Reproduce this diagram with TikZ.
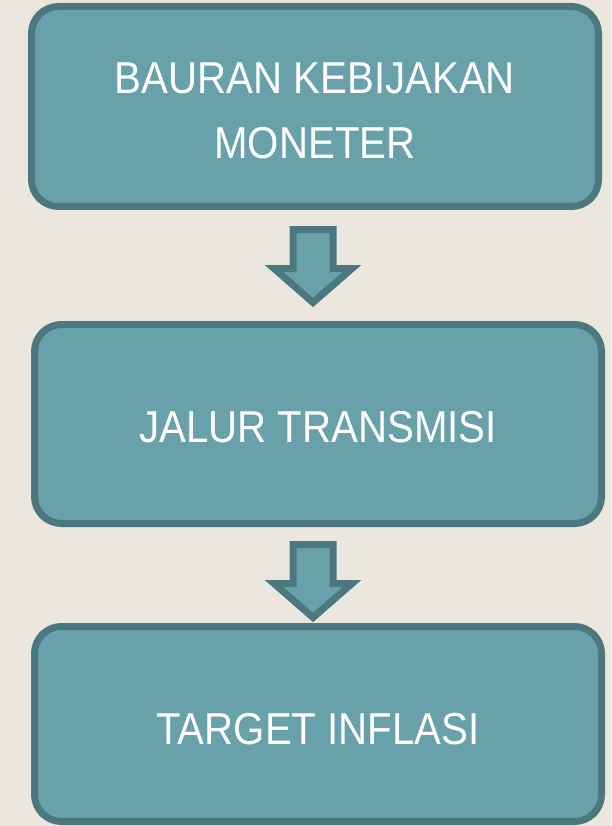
\documentclass[tikz,border=0pt]{standalone}
\usepackage{fontspec}
\newfontfamily\boxfont{Liberation Sans}[FakeStretch=0.9]
\usetikzlibrary{calc}
\definecolor{bgcol}{HTML}{ECE7DE}
\definecolor{tealfill}{HTML}{68A1AA}
\definecolor{tealdark}{HTML}{4B777E}
\tikzset{
  boxnode/.style={draw=tealdark, fill=tealfill, line width=7pt, rounded corners=27pt,
    minimum width=567pt, inner sep=0pt},
  boxlabel/.style={text=white, align=center, inner sep=0pt,
    font=\boxfont\fontsize{44.7}{65}\selectfont},
  blockarrow/.style={draw=tealdark, fill=tealfill, line width=7pt, line join=miter, miter limit=3}
}
\begin{document}
\begin{tikzpicture}[x=1pt,y=-1pt]
\fill[bgcol] (0,0) rectangle (611,826);
\useasboundingbox (0,0) rectangle (611,826);
\node[boxnode, minimum height=200pt] (b1) at (315,106.5) {};
\node[boxnode, minimum height=199pt] (b2) at (318,424) {};
\node[boxnode, minimum height=195pt] (b3) at (318,724) {};
\node[boxlabel] (t1) at ([yshift=-4.5pt]b1.center) {BAURAN KEBIJAKAN\\MONETER};
\node[boxlabel] (t2) at ([yshift=-3pt]b2.center) {JALUR TRANSMISI};
\node[boxlabel] (t3) at ([yshift=-5pt]b3.center) {TARGET INFLASI};
\coordinate (a1) at ($(b1.south)+(-2,19.5)$);
\coordinate (a2) at ($(b2.south)+(-5,17.5)$);
\foreach \a in {a1,a2}{
  \draw[blockarrow] ([shift={(-20,0)}]\a) -- ++(40,0) -- ++(0,39) -- ++(19,0)
    -- ++(-39,34) -- ++(-39,-34) -- ++(19,0) -- cycle;
}
\end{tikzpicture}
\end{document}
